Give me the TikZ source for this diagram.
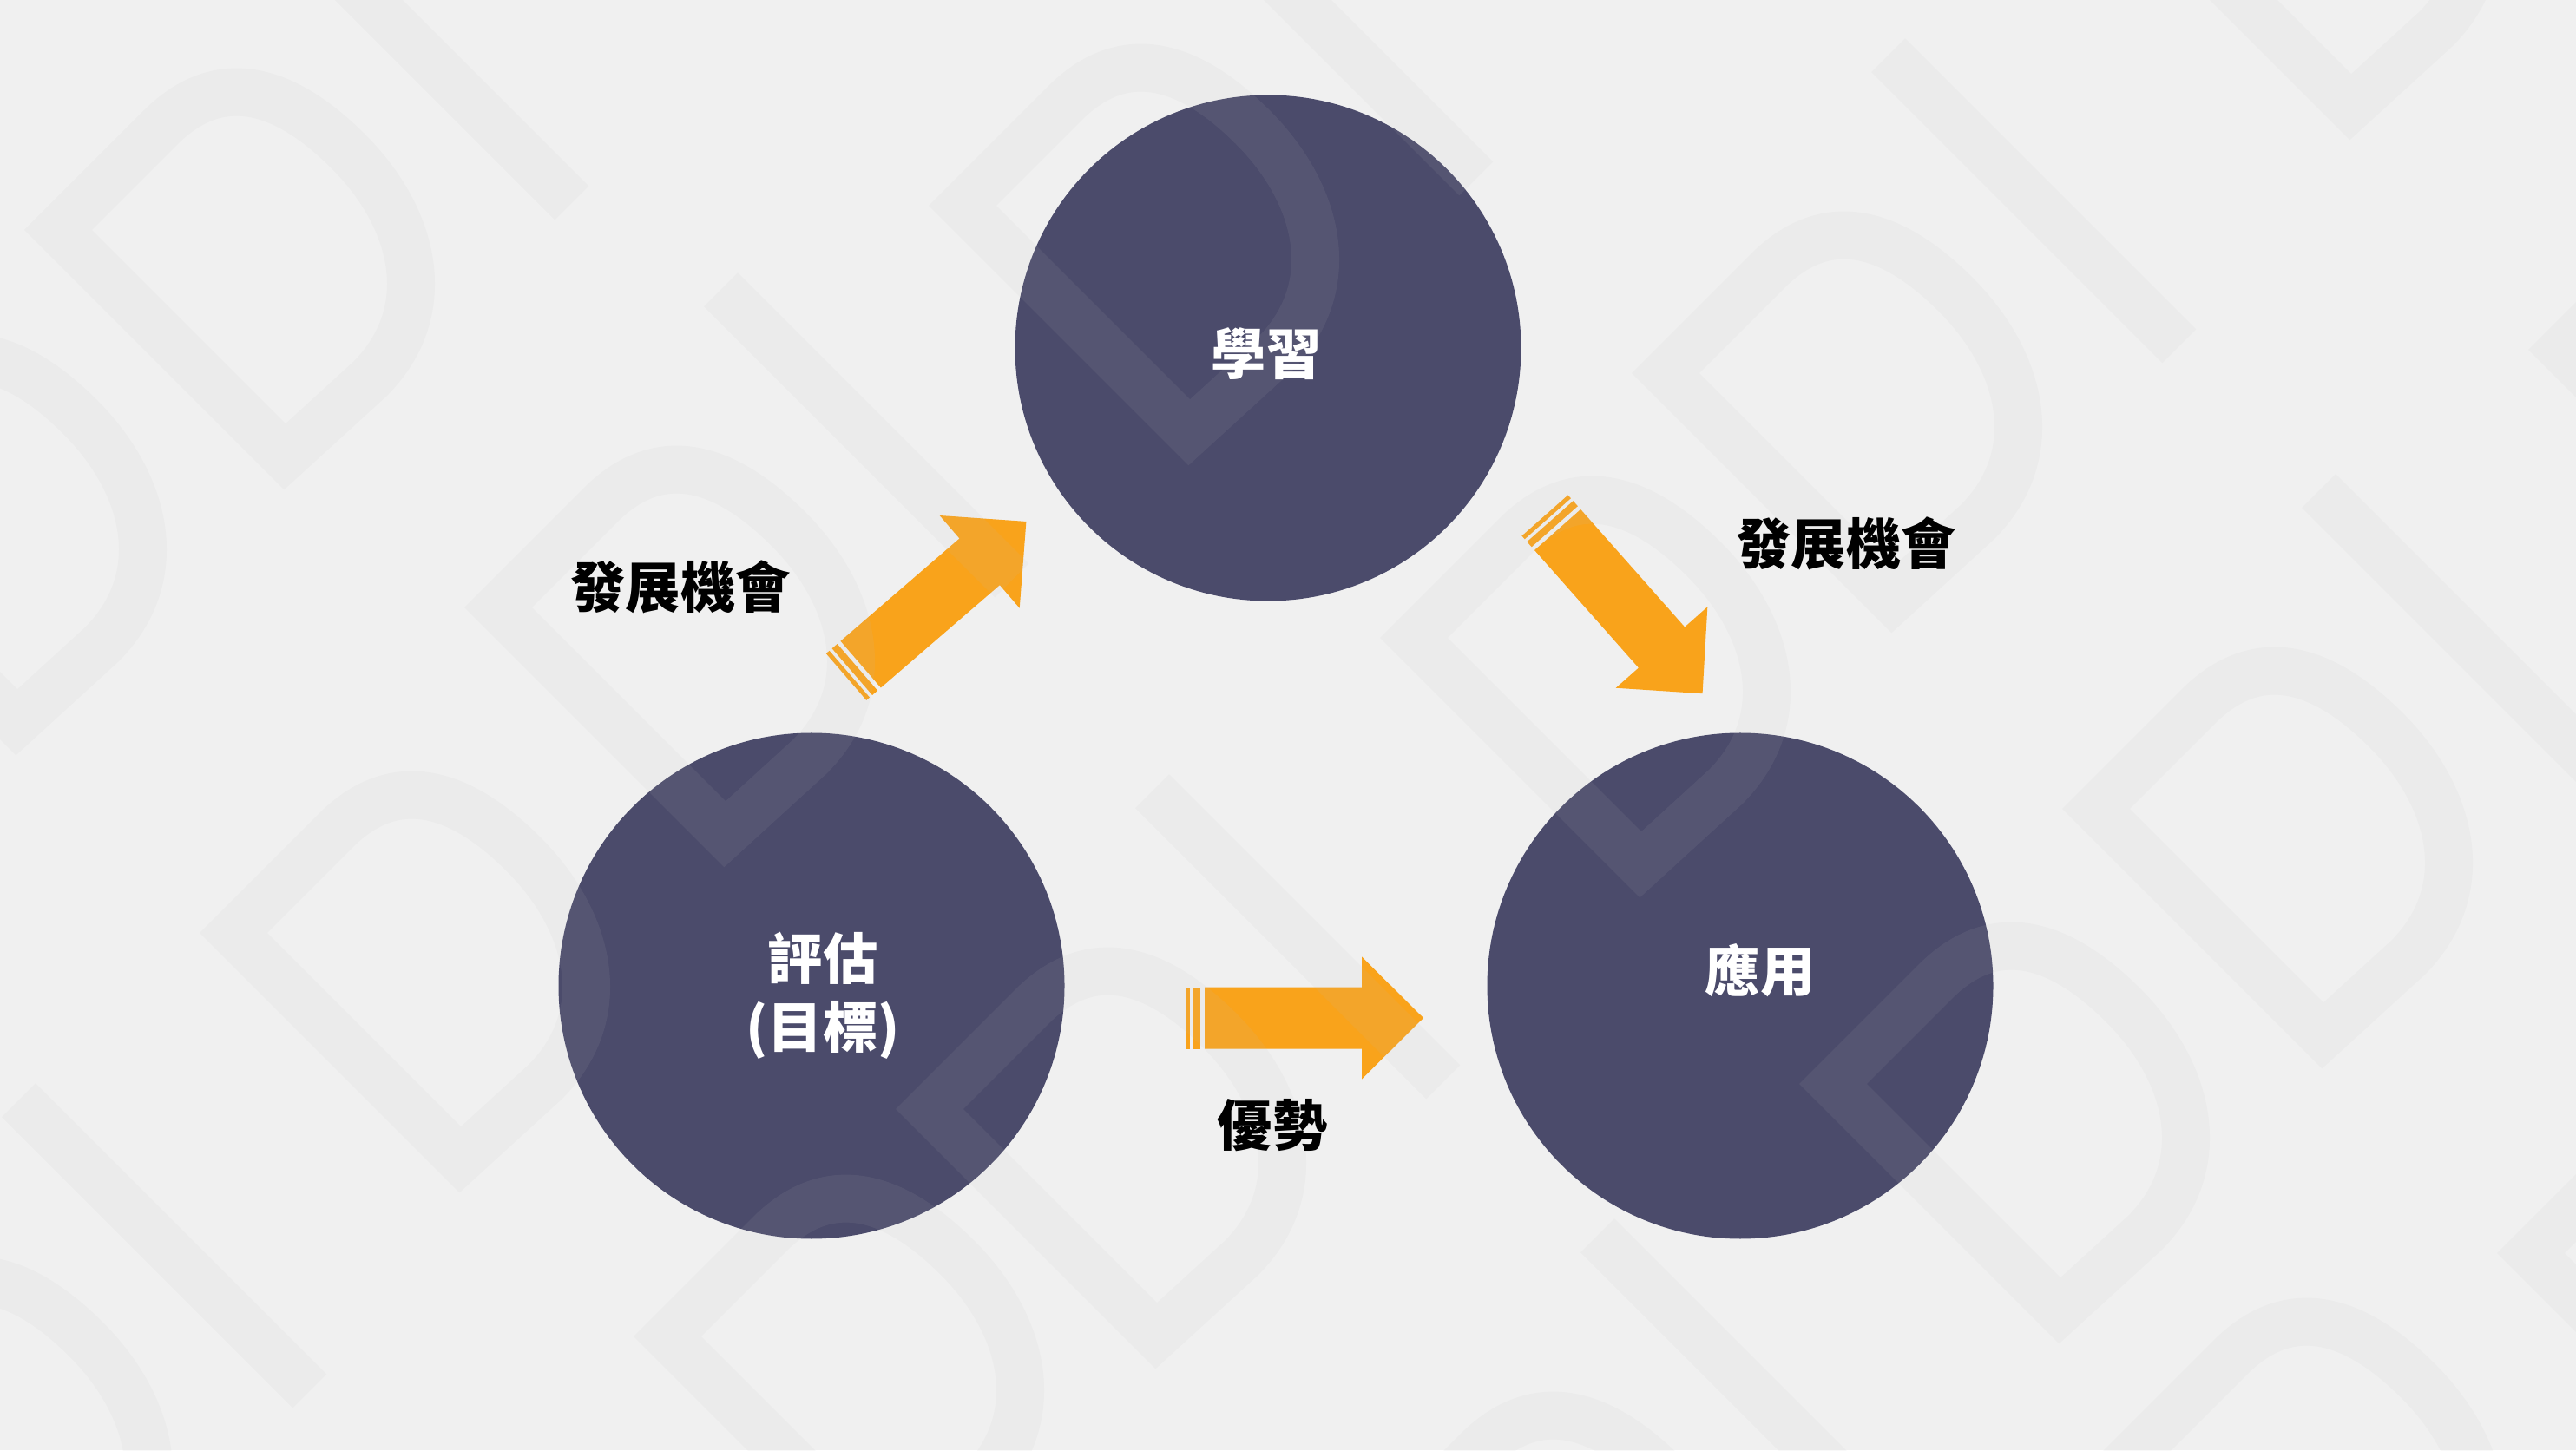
\documentclass[tikz,border=0pt]{standalone}
\usepackage{fontspec}
\newfontfamily\cjk{Noto Sans CJK TC}
\usepackage{tikz}
\usetikzlibrary{positioning}
\definecolor{bgcolor}{HTML}{F0F0F0}
\definecolor{circleblue}{HTML}{4B4B6B}
\definecolor{arroworange}{HTML}{F9A31B}
\definecolor{markgray}{HTML}{BEBEBE}
\tikzset{
	bubble/.style={circle, fill=circleblue, minimum size=5.83cm, inner sep=0pt},
	intext/.style={text=white, font=\cjk\bfseries\fontsize{18}{22.5}\selectfont, align=center, inner sep=0pt},
	outtext/.style={text=black, font=\cjk\bfseries\fontsize{18}{22.5}\selectfont, inner sep=0pt},
	markline/.style={draw=markgray, draw opacity=0.095, line width=0.55cm, miter limit=10},
	pics/fatarrow/.style={code={
		\fill[arroworange] (0,-0.355) rectangle (0.05,0.355);
		\fill[arroworange] (0.09,-0.355) rectangle (0.17,0.355);
		\fill[arroworange] (0.22,-0.355) -- (2.03,-0.355) -- (2.03,-0.705) -- (2.74,0)
			-- (2.03,0.705) -- (2.03,0.355) -- (0.22,0.355) -- cycle;
	}},
	pics/logomark/.style={code={
		\draw[markline] (0.275,0.275) -- (0.275,1.94) .. controls (0.275,3.0) and (1.1,3.28) .. (2.0,3.28)
			.. controls (3.1,3.28) and (4.03,2.7) .. (4.03,1.6) -- (3.97,0.275) -- cycle;
	}},
	pics/logobar/.style={code={
		\draw[markline] (-0.5,4.68) -- (4.24,4.68);
	}},
}
\begin{document}
\begin{tikzpicture}
			\fill[bgcolor] (0,0) rectangle (29.68,16.71);
			\useasboundingbox (0,0) rectangle (29.68,16.71);
			\begin{scope}
				\node[bubble] (learn) at (14.61,12.70) {};
				\node[bubble] (assess) at (9.35,5.35) {};
				\node[bubble] (apply) at (20.05,5.35) {};
			\end{scope}
			\begin{scope}
				\coordinate (uptail) at (9.75,8.91);
				\coordinate (downtail) at (17.80,10.77);
				\coordinate (righttail) at (13.66,4.98);
				\pic[rotate=40.8] at (uptail) {fatarrow};
				\pic[rotate=-48.5] at (downtail) {fatarrow};
				\pic at (righttail) {fatarrow};
			\end{scope}
			% faint watermark
			\begin{scope}
				\clip (0,0) rectangle (29.68,16.71);
				\foreach \p in {(0.28,14.06),(10.70,14.34),(18.80,12.41),(-2.81,11.00),(5.35,9.71),(2.30,5.96),
					(-2.74,0.37),(10.32,3.93),(15.90,9.36),(20.73,4.22),(23.76,7.39),(24.08,18.09),
					(29.13,12.68),(28.77,2.27),(24.13,-0.11),(7.30,1.31),(15.45,-1.19)}
					\pic[rotate=-45] at \p {logomark};
				\foreach \p in {(0.28,14.06),(10.70,14.34),(18.80,12.41),(5.35,9.71),(-2.74,0.37),
					(10.32,3.93),(23.76,7.39),(15.45,-1.19)}
					\pic[rotate=-45] at \p {logobar};
			\end{scope}
			\begin{scope}
				\node[intext] (learntext) at (14.59,12.63) {學習};
				\node[intext] (assesstext) at (9.48,5.24) {評估\\(目標)};
				\node[intext] (applytext) at (20.28,5.53) {應用};
				\node[outtext] (chanceleft) at (7.84,9.95) {發展機會};
				\node[outtext] (chanceright) at (21.27,10.45) {發展機會};
				\node[outtext] (strength) at (14.66,3.74) {優勢};
			\end{scope}
		\end{tikzpicture}
\end{document}
